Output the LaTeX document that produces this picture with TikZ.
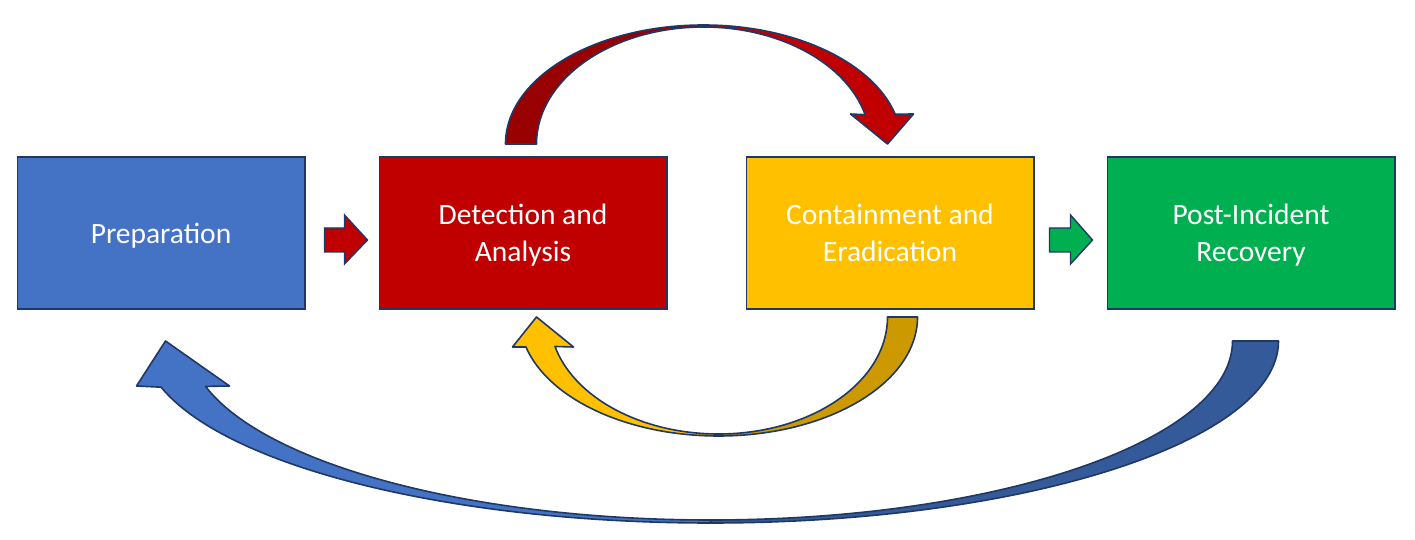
\documentclass[tikz,border=0pt]{standalone}
\usepackage{fontspec}
\setmainfont{Carlito}
\usepackage{xcolor}
\usepackage{tikz}
\usetikzlibrary{positioning,calc}
\definecolor{umriss}{HTML}{203864}
\definecolor{prepblau}{HTML}{4472C4}
\definecolor{blaudunkel}{HTML}{345A9A}
\definecolor{detrot}{HTML}{C00000}
\definecolor{rotdunkel}{HTML}{990000}
\definecolor{contgelb}{HTML}{FFC000}
\definecolor{gelbdunkel}{HTML}{CC9A00}
\definecolor{postgruen}{HTML}{00B050}
\tikzstyle{block} =	[draw=umriss, rectangle,
	line width=1.6pt,
	minimum width=287.4pt,
	minimum height=152.4pt,
	text=white,
	font=\fontsize{29.5}{37}\selectfont,
	align=center,
	text depth=0pt
	]
\tikzstyle{pfeil} = [draw=umriss,
	line width=1.4pt, line join=miter
	]
\tikzstyle{bogen} = [draw=umriss,
	line width=1.6pt, line join=round
	]

\begin{document}
\begin{tikzpicture}[x=1pt, y=1pt]
    \useasboundingbox (0,0) rectangle (1415,540);

    \node [block, fill=prepblau] (prep) at (161,307) {Preparation};
    \node [block, fill=detrot, right=73pt of prep] (det) {Detection and\\Analysis};
    \node [block, fill=contgelb, right=78pt of det] (cont) {Containment and\\Eradication};
    \node [block, fill=postgruen, right=72pt of cont] (post) {Post-Incident\\Recovery};

    % kleine Pfeile zwischen den Bloecken
    \draw [pfeil, fill=detrot] ($(prep.east)+(19,-19)$) -- ++(0,24) -- ++(20,0)
    	-- ++(0,13) -- ++(23,-25) -- ++(-23,-24) -- ++(0,12) -- cycle;
    \draw [pfeil, fill=postgruen] ($(cont.east)+(15,-19)$) -- ++(0,24) -- ++(21,0)
    	-- ++(0,13) -- ++(22,-25) -- ++(-22,-24) -- ++(0,12) -- cycle;

    % Bogen oben: det -> cont
    \coordinate (rotmitte) at ($(det.north)+(180.5,12)$);
    \draw [bogen, fill=rotdunkel] ($(rotmitte)+(-198,0)$)
    	arc[start angle=180, end angle=90, x radius=198, y radius=119] -- ++(0,-2)
    	arc[start angle=90, end angle=180, x radius=167, y radius=117] -- cycle;
    \draw [bogen, fill=detrot] ($(rotmitte)+(0,119)$)
    	arc[start angle=90, end angle=14.5, x radius=198, y radius=119]
    	-- ($(rotmitte)+(210,30)$) -- ($(rotmitte)+(184,0)$) -- ($(rotmitte)+(147,30)$)
    	-- ($(rotmitte)+(14.5:167 and 117)$)
    	arc[start angle=14.5, end angle=90, x radius=167, y radius=117] -- cycle;

    % Bogen unten: cont -> det
    \coordinate (gelbmitte) at ($(cont.south)+(-171.5,-7)$);
    \draw [bogen, fill=gelbdunkel] ($(gelbmitte)+(199,0)$) -- ($(gelbmitte)+(169,0)$)
    	arc[start angle=0, end angle=-90, x radius=169, y radius=117] -- ++(0,-2)
    	arc[start angle=270, end angle=360, x radius=199, y radius=119] -- cycle;
    \draw [bogen, fill=contgelb] ($(gelbmitte)+(0,-119)$)
    	arc[start angle=270, end angle=194.6, x radius=199, y radius=119]
    	-- ($(gelbmitte)+(-206,-30)$) -- ($(gelbmitte)+(-182,0)$) -- ($(gelbmitte)+(-145,-30)$)
    	-- ($(gelbmitte)+(194.6:169 and 117)$)
    	arc[start angle=194.6, end angle=270, x radius=169, y radius=117] -- cycle;

    % grosser Bogen: post -> prep
    \coordinate (blaumitte) at ($(post.south)+(-540.5,-31)$);
    \draw [bogen, fill=blaudunkel] ($(blaumitte)+(568,0)$) -- ($(blaumitte)+(522,0)$)
    	arc[start angle=0, end angle=-90, x radius=522, y radius=179] -- ++(0,-3)
    	arc[start angle=270, end angle=360, x radius=568, y radius=182] -- cycle;
    \draw [bogen, fill=prepblau] ($(blaumitte)+(0,-182)$)
    	arc[start angle=270, end angle=194.7, x radius=568, y radius=182]
    	-- ($(blaumitte)+(-574,-45)$) -- ($(blaumitte)+(-545,0)$) -- ($(blaumitte)+(-481,-45)$)
    	-- ($(blaumitte)+(194.7:522 and 179)$)
    	arc[start angle=194.7, end angle=270, x radius=522, y radius=179] -- cycle;
\end{tikzpicture}
\end{document}
